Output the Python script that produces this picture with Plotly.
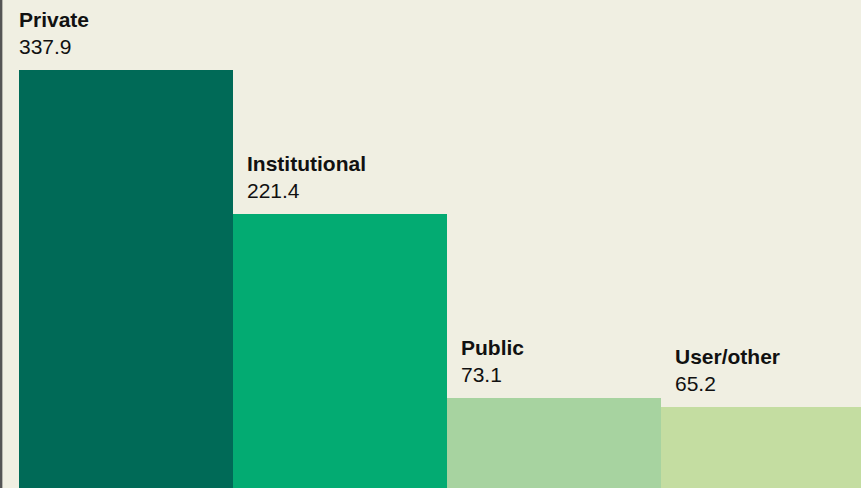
import plotly.graph_objects as go

categories = ["Private", "Institutional", "Public", "User/other"]
values = [337.9, 221.4, 73.1, 65.2]
colors = ["#006a57", "#03ab72", "#a7d3a0", "#c4dda1"]
label_shift = [-2, 12, 12, 12]

fig = go.Figure(go.Bar(
    x=list(range(len(categories))), y=values,
    marker=dict(color=colors, line=dict(width=0)),
    width=1.0, hoverinfo="skip",
))

for i, (c, v) in enumerate(zip(categories, values)):
    fig.add_annotation(
        x=i - 0.5, y=v, xref="x", yref="y",
        text=f"<b>{c}</b><br>{v}",
        showarrow=False, xanchor="left", yanchor="bottom", align="left",
        xshift=label_shift[i], yshift=10,
        font=dict(family="Liberation Sans, Arial, sans-serif", size=21, color="#111111"),
    )

fig.add_shape(type="line", xref="paper", yref="paper", x0=0.001, x1=0.001, y0=0, y1=1,
              line=dict(color="#555555", width=3))

fig.update_layout(
    width=861, height=488,
    margin=dict(l=0, r=0, t=0, b=0),
    paper_bgcolor="#f0efe2", plot_bgcolor="#f0efe2",
    showlegend=False, bargap=0,
    xaxis=dict(range=[-0.5 - 19 / 214, 3.4346], showgrid=False, zeroline=False,
               showticklabels=False, fixedrange=True),
    yaxis=dict(range=[0, 394.5], showgrid=False, zeroline=False, showticklabels=False,
               fixedrange=True),
)

fig.write_html("out.html", config={"displayModeBar": False, "staticPlot": True},
               post_script="document.body.style.margin='0';document.body.style.overflow='hidden';")
